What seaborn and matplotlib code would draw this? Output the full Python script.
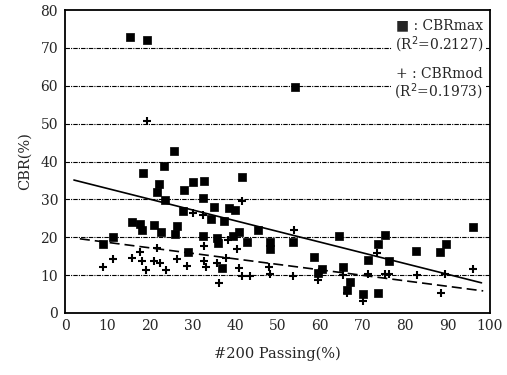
import numpy as np
import pandas as pd
import matplotlib
matplotlib.use("Agg")
import matplotlib.pyplot as plt
import seaborn as sns

# CBRmax points (#200 passing %, CBR %)
max_x = [15.3, 19.4, 25.7, 23.3, 54.1, 18.4, 22.0, 21.7, 27.9, 30.2, 32.7, 41.6,
         23.6, 32.5, 35.1, 27.8, 38.5, 40.0, 34.4, 37.5, 45.5, 15.7, 17.6, 18.0,
         21.0, 22.6, 26.3, 25.9, 11.4, 8.9, 32.5, 35.7, 36.0, 39.6, 40.9, 42.8,
         29.0, 48.2, 48.2, 36.9, 53.6, 58.7, 60.5, 59.6, 64.5, 65.3, 67.1, 66.3,
         70.2, 71.2, 73.7, 73.6, 75.2, 76.3, 82.7, 88.2, 89.6, 95.9]
max_y = [73.0, 72.0, 42.8, 38.9, 59.7, 36.9, 34.0, 31.9, 32.5, 34.6, 34.9, 35.9,
         29.8, 30.3, 27.9, 27.0, 27.6, 27.2, 24.7, 24.3, 21.8, 23.9, 23.6, 21.8,
         23.3, 21.5, 22.9, 20.9, 20.0, 18.3, 20.4, 19.8, 18.5, 20.4, 21.3, 18.7,
         16.2, 18.7, 16.8, 11.8, 18.7, 14.7, 11.5, 10.6, 20.4, 12.2, 8.1, 6.0,
         4.9, 14.0, 5.3, 18.2, 20.6, 13.8, 16.4, 16.1, 18.2, 22.7]

# CBRmod points
mod_x = [19.4, 9.0, 11.2, 15.7, 17.6, 18.0, 19.0, 21.6, 21.0, 22.4, 23.7, 26.3,
         28.6, 30.2, 32.5, 32.7, 32.7, 33.1, 35.7, 36.2, 37.8, 38.4, 40.4, 40.9,
         41.6, 43.5, 48.0, 48.2, 41.6, 53.9, 53.7, 59.8, 59.5, 65.3, 66.3, 70.2,
         71.4, 73.5, 75.3, 76.3, 82.9, 88.5, 89.4, 96.1]
mod_y = [50.8, 12.2, 14.2, 14.6, 16.0, 13.6, 11.3, 17.2, 13.6, 13.1, 11.3, 14.2,
         12.4, 26.3, 25.8, 17.6, 13.6, 12.2, 13.1, 7.8, 14.4, 19.4, 16.9, 12.0,
         9.8, 9.8, 12.2, 10.4, 29.6, 21.9, 9.8, 10.9, 8.7, 10.0, 5.2, 3.2,
         10.4, 15.8, 10.4, 10.4, 10.0, 5.2, 10.2, 11.5]

# fitted lines: intercept, slope, x range
fit_max = (35.7, -0.283, 2.1, 98.0)
fit_mod = (20.1, -0.145, 3.5, 98.4)

xticks = [0, 10, 20, 30, 40, 50, 60, 70, 80, 90, 100]
yticks = [0, 10, 20, 30, 40, 50, 60, 70, 80]

sns.set_style("white")
plt.rcParams["font.family"] = ["DejaVu Serif", "DejaVu Sans"]

fig = plt.figure(figsize=(5.07, 3.75), dpi=100)
ax = fig.add_axes([65 / 507, (375 - 313) / 375, 425 / 507, 303 / 375])

for g in yticks[1:-1]:
    ax.axhline(g, color="black", lw=0.8, ls=(0, (4, 1, 1, 1)), zorder=1)

df_max = pd.DataFrame({"x": max_x, "y": max_y})
df_mod = pd.DataFrame({"x": mod_x, "y": mod_y})
sns.scatterplot(data=df_max, x="x", y="y", marker="s", s=26, color="black",
                edgecolor="black", linewidth=0.5, ax=ax, zorder=3)
sns.scatterplot(data=df_mod, x="x", y="y", marker="+", s=40, color="black",
                linewidth=1.5, ax=ax, zorder=3)

for (b0, b1, x0, x1), ls in [(fit_max, "-"), (fit_mod, (0, (6, 3)))]:
    xs = np.array([x0, x1])
    sns.lineplot(x=xs, y=b0 + b1 * xs, color="black", lw=1.2, ls=ls, ax=ax, zorder=2)

ax.set_xlim(0, 100)
ax.set_ylim(0, 80)
ax.set_xticks(xticks)
ax.set_yticks(yticks)
ax.tick_params(axis="x", direction="in", length=4, labelsize=10, pad=4)
ax.tick_params(axis="y", direction="inout", length=6, labelsize=10, pad=2)
for sp in ax.spines.values():
    sp.set_color("black")
    sp.set_linewidth(1.3)

ax.set_xlabel("#200 Passing(%)", fontsize=10.5, labelpad=10)
ax.set_ylabel("CBR(%)", fontsize=10.5, labelpad=6)

box = dict(facecolor="white", edgecolor="none", pad=2)
ax.text(98.4, 76, "■ : CBRmax", ha="right", va="center", fontsize=10, bbox=box, zorder=4)
ax.text(98.4, 70.8, "(R$^2$=0.2127)", ha="right", va="center", fontsize=10, bbox=box, zorder=4)
ax.text(98.4, 63.1, "+ : CBRmod", ha="right", va="center", fontsize=10, bbox=box, zorder=4)
ax.text(98.4, 58.3, "(R$^2$=0.1973)", ha="right", va="center", fontsize=10, bbox=box, zorder=4)

fig.savefig("out.png", dpi=100)
